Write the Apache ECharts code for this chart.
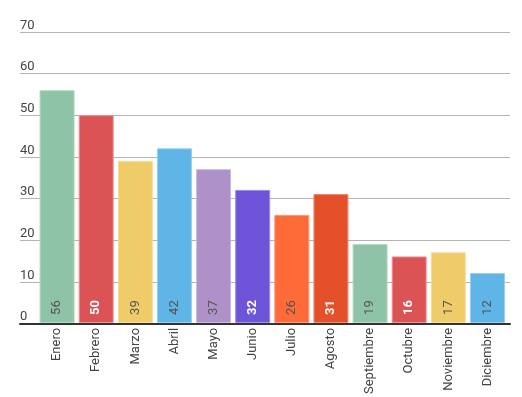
<!DOCTYPE html>
<html>
<head>
<meta charset="utf-8">
<script src="https://cdn.jsdelivr.net/npm/echarts@6/dist/echarts.min.js"></script>
<style>
html,body{margin:0;padding:0;background:#fff;}
#c{width:522px;height:397px;}
</style>
</head>
<body>
<div id="c"></div>
<script>
const months = ['Enero','Febrero','Marzo','Abril','Mayo','Junio','Julio','Agosto','Septiembre','Octubre','Noviembre','Diciembre'];
const values = [56, 50, 39, 42, 37, 32, 26, 31, 19, 16, 17, 12];
const yTicks = [0, 10, 20, 30, 40, 50, 60, 70];

const barColors = ['#8EC3A7','#DC5356','#F0CB69','#5FB5E5','#AD91C8','#6E54D9','#FE6A38','#E4502A','#8EC3A7','#DC5356','#F0CB69','#5FB5E5'];
const borderColors = ['#b4d9c4','#ec9496','#f6dd9c','#98cff0','#ccb8de','#9d8ae8','#ff9a78','#f08a6c','#b4d9c4','#ec9496','#f6dd9c','#98cff0'];
const labelColors = ['#555','#fff','#555','#555','#555','#fff','#555','#fff','#555','#fff','#555','#555'];

const chart = echarts.init(document.getElementById('c'), null, {renderer:'canvas'});
const font = 'Roboto, Arial, sans-serif';

chart.setOption({
  animation: false,
  backgroundColor: '#fff',
  grid: [
    {left: 20, right: 12, top: 32, bottom: 73.5},
    {left: 37.5, right: 15, top: 32, bottom: 73.5}
  ],
  xAxis: [
    {gridIndex: 0, type: 'value', min: 0, max: 1, z: 5,
     axisLine: {show: true, lineStyle: {color: '#333', width: 2}},
     axisTick: {show: false}, axisLabel: {show: false}, splitLine: {show: false}},
    {gridIndex: 1, type: 'category', data: months,
     axisLine: {show: false}, axisTick: {show: false},
     axisLabel: {rotate: 90, margin: 5, color: '#444', fontSize: 13, fontFamily: font, interval: 0}}
  ],
  yAxis: [
    {gridIndex: 0, type: 'value', min: yTicks[0], max: yTicks[yTicks.length-1], interval: 10,
     axisLine: {show: false}, axisTick: {show: false},
     axisLabel: {inside: true, margin: 0, align: 'left', verticalAlign: 'bottom', lineHeight: 13, padding: [0,0,0,0],
                 color: '#444', fontSize: 13, fontFamily: font},
     splitLine: {show: true, lineStyle: {color: '#b4b4b4', width: 1}}},
    {gridIndex: 1, type: 'value', min: yTicks[0], max: yTicks[yTicks.length-1], interval: 10,
     show: false, splitLine: {show: false}}
  ],
  series: [{
    type: 'bar',
    xAxisIndex: 1, yAxisIndex: 1,
    barWidth: 35,
    data: values.map((v, i) => ({
      value: v,
      itemStyle: {color: barColors[i], borderColor: borderColors[i], borderWidth: 1},
      label: {color: labelColors[i], fontWeight: labelColors[i] === '#fff' ? 'bold' : 'normal'}
    })),
    label: {
      show: true, position: 'insideBottom', rotate: 90, align: 'left', verticalAlign: 'middle',
      distance: 8, fontSize: 13, fontFamily: font
    }
  }]
});
</script>
</body>
</html>
